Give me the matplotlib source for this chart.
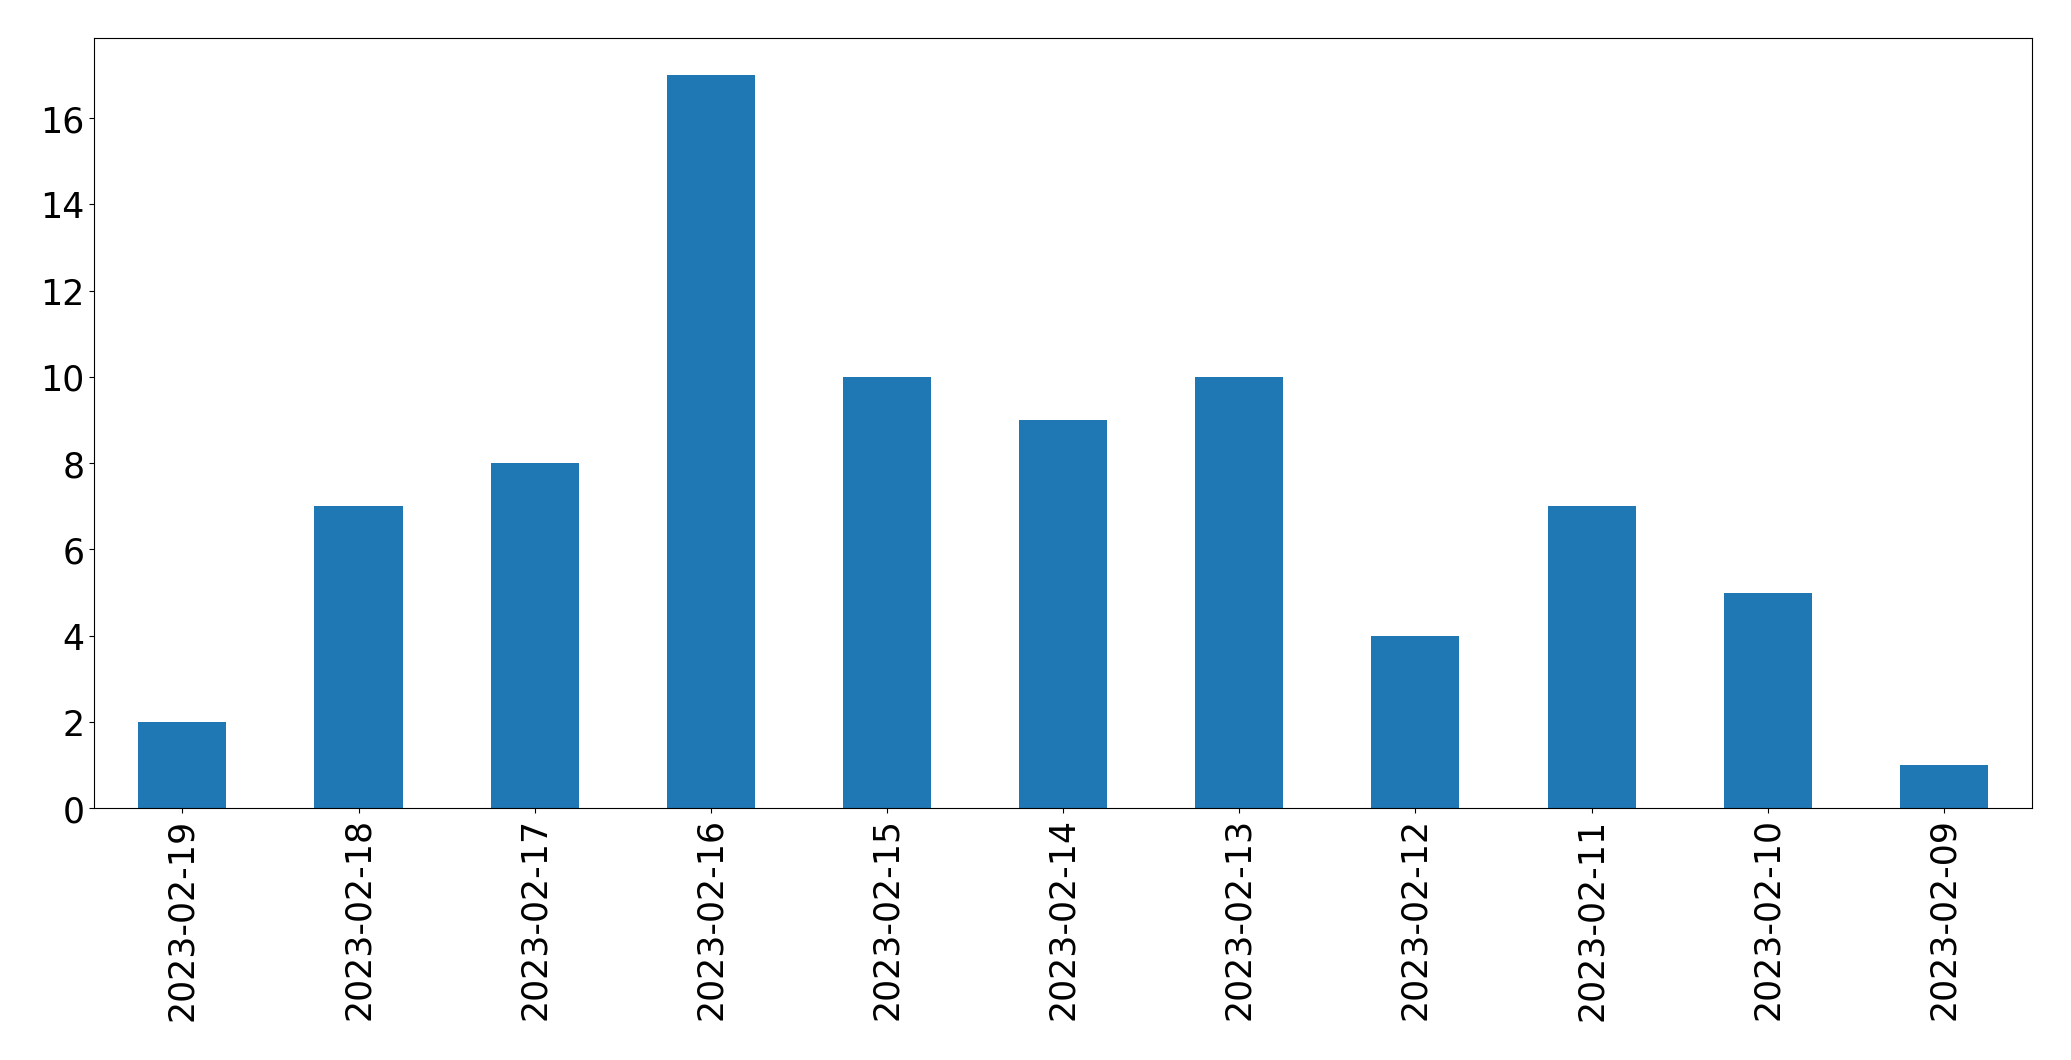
import matplotlib
matplotlib.use("Agg")
import matplotlib.pyplot as plt
import pandas as pd

dates = ["2023-02-19", "2023-02-18", "2023-02-17", "2023-02-16", "2023-02-15",
         "2023-02-14", "2023-02-13", "2023-02-12", "2023-02-11", "2023-02-10",
         "2023-02-09"]
counts = [2, 7, 8, 17, 10, 9, 10, 4, 7, 5, 1]

fig = plt.figure(figsize=(20.71, 10.605), dpi=100)
ax = fig.add_axes([94.3 / 2071, 1 - 809 / 1061, (2032 - 94.3) / 2071, (809 - 39) / 1061])
s = pd.Series(counts, index=dates)
s.plot.bar(ax=ax, color="#1f77b4", width=0.5)
ax.tick_params(axis="both", labelsize=25)
ax.set_ylim(0, 17 * 1.05)
fig.savefig("out.png", dpi=100)
